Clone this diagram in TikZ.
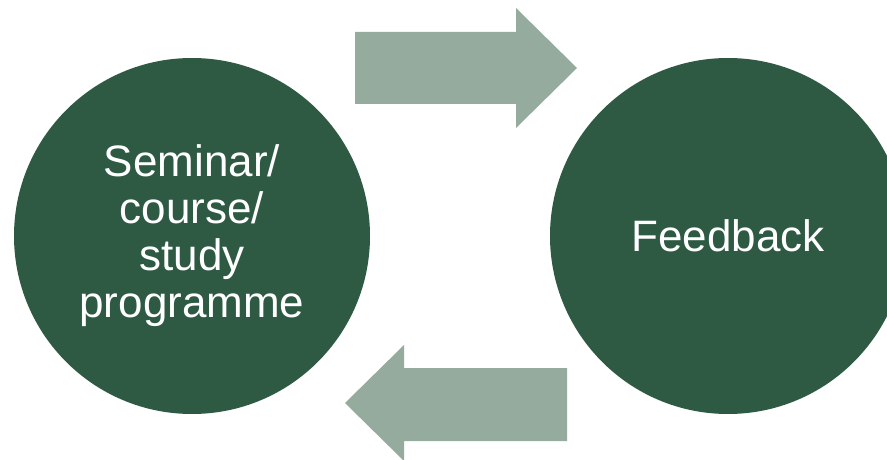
\documentclass[tikz,border=0pt]{standalone}
\usepackage{fontspec}
\setmainfont{Liberation Sans}
\definecolor{darkgreen}{HTML}{2E5A44}
\definecolor{arrowgreen}{HTML}{95AB9E}
\begin{document}
\begin{tikzpicture}[x=1pt,y=-1pt,
  bubble/.style={circle, fill=darkgreen, draw=none, minimum size=356pt, inner sep=0pt,
    text=white, align=center, font=\fontsize{44}{47}\selectfont},
  bigarrow/.style={fill=arrowgreen, draw=none}]
\useasboundingbox (0,0) rectangle (887,460);
\clip (0,0) rectangle (887,460);
\node[bubble] (seminar) at (192,236) {Seminar/\\course/\\study\\programme};
\node[bubble] (feedback) at (728,236) {Feedback};
% top arrow (pointing right)
\fill[bigarrow] (355,32) -- (516,32) -- (516,8) -- (577,68) -- (516,128) -- (516,104) -- (355,104) -- cycle;
% bottom arrow (pointing left)
\fill[bigarrow] (567,368) -- (404,368) -- (404,345) -- (345,403) -- (404,461) -- (404,441) -- (567,441) -- cycle;
\end{tikzpicture}
\end{document}
